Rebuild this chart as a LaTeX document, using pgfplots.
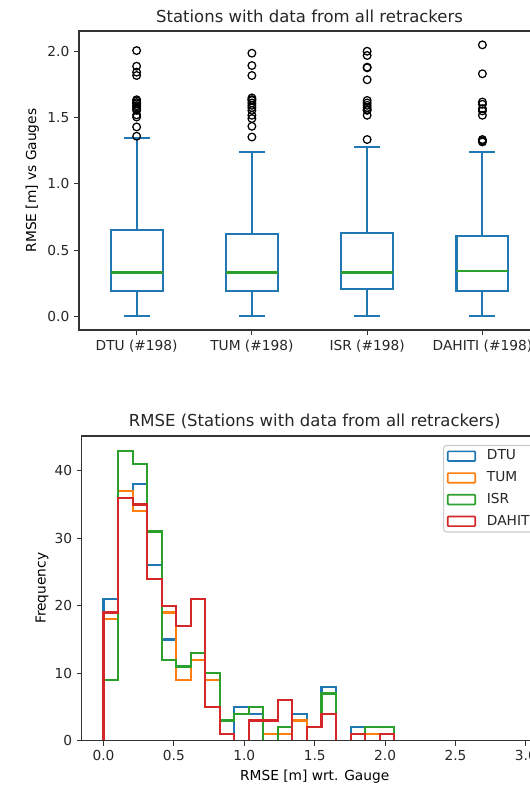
\documentclass[border=0pt]{standalone}
\usepackage{fontspec}
\setmainfont{DejaVu Sans}
\usepackage{pgfplots}
\usepackage{pgfplotstable}
\pgfplotsset{compat=1.18}
\usepgfplotslibrary{statistics}
\definecolor{c0}{HTML}{1F77B4}
\definecolor{c1}{HTML}{FF7F0E}
\definecolor{c2}{HTML}{2CA02C}
\definecolor{c3}{HTML}{D62728}

% histogram: left bin edge, counts per retracker
\pgfplotstableread{
x dtu tum isr dah
0 0 0 0 0
0 21 18 9 19
0.10323 37 37 43 36
0.20645 38 34 41 35
0.30968 26 31 31 24
0.41290 15 19 12 20
0.51613 9 9 11 17
0.61935 13 12 13 21
0.72258 9 9 10 5
0.82581 1 3 3 1
0.92903 5 4 4 0
1.03226 4 5 5 3
1.13548 1 1 0 3
1.23871 1 1 2 6
1.34194 4 3 0 0
1.44516 2 2 2 2
1.54839 8 7 7 4
1.65161 0 0 0 0
1.75484 2 1 1 1
1.85806 1 1 2 0
1.96129 1 1 2 1
2.06452 0 0 0 0
}\histdata

\pgfplotsset{mplstyle/.style={
  scale only axis,
  axis line style={black!80, line width=0.8pt},
  tick align=outside,
  major tick length=3.5pt,
  every tick/.style={black!80, line width=0.8pt},
  xtick pos=bottom, ytick pos=left,
  tick label style={font=\fontsize{10}{12}\selectfont, black!85},
  label style={font=\fontsize{10}{12}\selectfont, black!85},
  title style={font=\fontsize{12}{14}\selectfont, black!85},
  /pgf/number format/assume math mode=true,
  axis on top,
}}

\begin{document}
\begin{tikzpicture}
% ---------------- top: box plot ----------------
\begin{axis}[mplstyle,
  at={(57.45pt,-22.55pt)}, anchor=north west,
  width=335.3pt, height=217.45pt,
  xmin=0.5, xmax=4.5, ymin=-0.1025, ymax=2.1525,
  xtick={1,2,3,4},
  xticklabels={DTU (\#198),TUM (\#198),ISR (\#198),DAHITI (\#198)},
  ytick={0,0.5,1,1.5,2},
  yticklabel style={/pgf/number format/.cd, fixed, fixed zerofill, precision=1},
  title={Stations with data from all retrackers},
  title style={at={(axis description cs:0.5,1)}, anchor=center, yshift=4.9pt},
  ylabel={RMSE [m] vs Gauges},
  every axis y label/.style={at={(axis description cs:-0.1013,0.5)}, rotate=90, anchor=center},
  boxplot/draw direction=y,
  boxplot/box extend=0.45,
  boxplot/whisker extend=0.225,
  boxplot/every box/.style={draw=c0, line width=1.5pt},
  boxplot/every whisker/.style={draw=c0, line width=1.5pt},
  boxplot/every median/.style={draw=c2, line width=1.5pt},
  boxplotstyle/.style={c0, line width=1.5pt, mark=o, mark size=2.8pt,
     mark options={draw=black, fill=none, line width=0.9pt, solid}},
]
\addplot[boxplotstyle, boxplot prepared={draw position=1,
  lower whisker=0, lower quartile=0.191, median=0.331,
  upper quartile=0.652, upper whisker=1.349}]
  coordinates {(0,2.005) (0,1.887) (0,1.842) (0,1.817) (0,1.634) (0,1.625)
  (0,1.612) (0,1.604) (0,1.59) (0,1.579) (0,1.565) (0,1.554) (0,1.52)
  (0,1.504) (0,1.429) (0,1.359)};
\addplot[boxplotstyle, boxplot prepared={draw position=2,
  lower whisker=0, lower quartile=0.191, median=0.331,
  upper quartile=0.624, upper whisker=1.24}]
  coordinates {(0,1.985) (0,1.892) (0,1.817) (0,1.648) (0,1.635) (0,1.629)
  (0,1.61) (0,1.592) (0,1.575) (0,1.554) (0,1.517) (0,1.492) (0,1.434)
  (0,1.353)};
\addplot[boxplotstyle, boxplot prepared={draw position=3,
  lower whisker=0, lower quartile=0.208, median=0.331,
  upper quartile=0.629, upper whisker=1.276}]
  coordinates {(0,2.0) (0,1.968) (0,1.88) (0,1.875) (0,1.785) (0,1.629)
  (0,1.61) (0,1.592) (0,1.575) (0,1.56) (0,1.554) (0,1.517) (0,1.334)};
\addplot[boxplotstyle, boxplot prepared={draw position=4,
  lower whisker=0, lower quartile=0.191, median=0.341,
  upper quartile=0.607, upper whisker=1.24}]
  coordinates {(0,2.048) (0,1.83) (0,1.617) (0,1.6) (0,1.567) (0,1.55)
  (0,1.517) (0,1.334) (0,1.325) (0,1.316)};
\end{axis}

% ---------------- bottom: step histograms ----------------
\begin{axis}[mplstyle,
  at={(59.42pt,-317.1pt)}, anchor=north west,
  width=338.9pt, height=221.6pt,
  xmin=-0.155, xmax=3.155, ymin=0, ymax=45.15,
  xtick={0,0.5,1,1.5,2,2.5,3},
  xticklabel style={/pgf/number format/.cd, fixed, fixed zerofill, precision=1},
  ytick={0,10,20,30,40},
  title={RMSE (Stations with data from all retrackers)},
  title style={at={(axis description cs:0.5,1)}, anchor=center, yshift=4.9pt},
  xlabel={RMSE [m] wrt. Gauge},
  every axis x label/.style={at={(axis description cs:0.5,-0.118)}, anchor=center},
  ylabel={Frequency},
  every axis y label/.style={at={(axis description cs:-0.0852,0.5)}, rotate=90, anchor=center},
  every axis plot/.append style={line width=1.5pt, const plot, no marks,
    legend image code/.code={\path[draw=none] (0pt,0pt) -- (28.5pt,0pt);
      \draw[line width=1.2pt, rounded corners=0.6pt] (1.5pt,-3.5pt) rectangle (21.5pt,3.5pt);}},
  legend style={at={(axis description cs:0,1)}, anchor=north west,
    xshift=262.8pt, yshift=-6.5pt,
    draw=black!20, line width=0.8pt, rounded corners=2pt, fill=white,
    font=\fontsize{10}{12}\selectfont, inner sep=1.5pt, row sep=3.3pt,
    nodes={text height=7.5pt, text depth=2pt, inner sep=1.5pt, text=black!85}},
  legend cell align=left,
]
\addplot[c0] table[x=x, y=dtu] {\histdata};
\addplot[c1] table[x=x, y=tum] {\histdata};
\addplot[c2] table[x=x, y=isr] {\histdata};
\addplot[c3] table[x=x, y=dah] {\histdata};
\legend{DTU,TUM,ISR,DAHITI}
\end{axis}

\pgfresetboundingbox
\useasboundingbox (0pt,0pt) rectangle (385.45pt,-570.9pt);
\end{tikzpicture}
\end{document}
